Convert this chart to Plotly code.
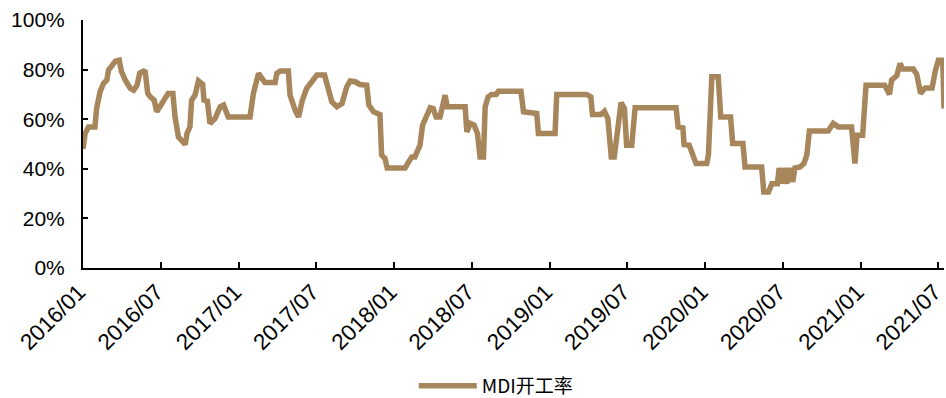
import plotly.graph_objects as go

# MDI operating rate, weekly turning points (date, % of capacity)
dates = [
    "2016-01-01", "2016-01-06", "2016-01-14", "2016-01-29", "2016-02-02", "2016-02-10",
    "2016-02-18", "2016-02-26", "2016-03-01", "2016-03-09", "2016-03-17", "2016-03-26",
    "2016-03-31", "2016-04-09", "2016-04-21", "2016-04-29", "2016-05-07", "2016-05-13",
    "2016-05-22", "2016-05-26", "2016-06-01", "2016-06-07", "2016-06-16", "2016-06-22",
    "2016-06-30", "2016-07-08", "2016-07-19", "2016-07-30", "2016-08-04", "2016-08-12",
    "2016-08-20", "2016-08-28", "2016-09-01", "2016-09-08", "2016-09-12", "2016-09-20",
    "2016-09-28", "2016-10-08", "2016-10-11", "2016-10-19", "2016-10-25", "2016-11-06",
    "2016-11-18", "2016-11-26", "2016-12-07", "2016-12-11", "2017-01-27", "2017-02-04",
    "2017-02-16", "2017-03-03", "2017-03-27", "2017-03-31", "2017-04-08", "2017-04-27",
    "2017-05-01", "2017-05-13", "2017-05-21", "2017-05-30", "2017-06-09", "2017-06-21",
    "2017-07-03", "2017-07-21", "2017-07-30", "2017-08-07", "2017-08-19", "2017-08-31",
    "2017-09-11", "2017-09-19", "2017-10-01", "2017-10-12", "2017-10-28", "2017-11-02",
    "2017-11-13", "2017-11-28", "2017-12-02", "2017-12-10", "2017-12-15", "2018-01-26",
    "2018-02-03", "2018-02-11", "2018-02-18", "2018-03-02", "2018-03-08", "2018-03-18",
    "2018-03-26", "2018-04-02", "2018-04-09", "2018-04-18", "2018-04-24", "2018-04-30",
    "2018-05-05", "2018-06-16", "2018-06-20", "2018-06-28", "2018-07-07", "2018-07-15",
    "2018-07-21", "2018-07-29", "2018-08-02", "2018-08-09", "2018-08-17", "2018-08-28",
    "2018-09-02", "2018-10-25", "2018-10-31", "2018-12-01", "2018-12-05", "2019-01-13",
    "2019-01-17", "2019-03-28", "2019-04-07", "2019-04-11", "2019-05-01", "2019-05-09",
    "2019-05-17", "2019-05-25", "2019-06-01", "2019-06-09", "2019-06-17", "2019-06-25",
    "2019-06-30", "2019-07-12", "2019-07-20", "2019-10-24", "2019-10-29", "2019-11-09",
    "2019-11-12", "2019-11-24", "2019-12-04", "2019-12-10", "2020-01-04", "2020-01-08",
    "2020-01-16", "2020-01-31", "2020-02-06", "2020-02-29", "2020-03-05", "2020-03-29",
    "2020-04-03", "2020-05-12", "2020-05-17", "2020-05-28", "2020-06-05", "2020-06-18",
    "2020-06-22", "2020-06-28", "2020-07-03", "2020-07-10", "2020-07-16", "2020-07-24",
    "2020-07-29", "2020-08-10", "2020-08-19", "2020-08-26", "2020-09-01", "2020-10-15",
    "2020-10-27", "2020-11-08", "2020-12-09", "2020-12-17", "2020-12-22", "2021-01-04",
    "2021-01-12", "2021-02-25", "2021-03-08", "2021-03-13", "2021-03-25", "2021-04-02",
    "2021-04-08", "2021-05-03", "2021-05-11", "2021-05-20", "2021-05-31", "2021-06-16",
    "2021-06-24", "2021-07-01", "2021-07-11", "2021-07-14",
]
rate = [
    48.0, 54.2, 56.9, 56.9, 64.3, 71.0,
    74.4, 75.8, 79.8, 82.1, 83.4, 83.8,
    79.4, 75.8, 72.4, 71.7, 73.7, 78.5,
    79.4, 79.1, 70.4, 69.0, 67.7, 63.0,
    65.0, 67.7, 70.4, 70.4, 60.9, 52.8,
    51.5, 49.8, 54.2, 56.9, 67.7, 69.7,
    75.4, 74.0, 67.7, 67.3, 58.3, 60.3,
    65.0, 65.7, 60.9, 60.9, 60.9, 70.4,
    78.5, 74.8, 74.8, 78.5, 79.4, 79.4,
    69.7, 63.6, 60.9, 67.7, 72.4, 75.1,
    77.8, 77.8, 72.4, 67.0, 65.0, 66.3,
    73.0, 75.4, 75.1, 74.0, 73.7, 65.7,
    63.0, 61.9, 45.5, 44.1, 40.3, 40.3,
    42.7, 44.8, 44.8, 49.5, 57.6, 62.3,
    64.6, 64.3, 60.9, 60.9, 65.0, 69.7,
    65.0, 65.0, 54.9, 58.3, 57.6, 54.2,
    44.8, 44.8, 65.0, 69.0, 70.0, 70.0,
    71.3, 71.3, 63.0, 62.3, 54.2, 54.2,
    70.0, 70.0, 69.0, 61.9, 61.9, 63.2,
    60.3, 44.8, 44.8, 56.2, 66.7, 64.3,
    49.5, 49.5, 64.6, 64.6, 56.9, 56.5,
    49.8, 49.5, 44.1, 42.1, 42.1, 45.5,
    77.1, 77.1, 60.9, 60.9, 50.2, 50.2,
    40.7, 40.7, 30.6, 30.6, 34.0, 34.0,
    40.3, 34.0, 40.3, 34.0, 40.3, 34.7,
    40.3, 40.7, 42.1, 45.5, 55.2, 55.2,
    58.3, 56.9, 56.9, 42.1, 53.5, 53.5,
    73.7, 73.7, 70.0, 75.8, 77.5, 82.5,
    80.2, 80.2, 78.1, 70.4, 72.6, 72.6,
    79.8, 83.8, 83.8, 64.3,
]

tick_dates = [
    "2016-01-01", "2016-07-01", "2017-01-01", "2017-07-01", "2018-01-01", "2018-07-01",
    "2019-01-01", "2019-07-01", "2020-01-01", "2020-07-01", "2021-01-01", "2021-07-01",
]
tick_labels = [
    "2016/01", "2016/07", "2017/01", "2017/07", "2018/01", "2018/07",
    "2019/01", "2019/07", "2020/01", "2020/07", "2021/01", "2021/07",
]
y_ticks = [0, 20, 40, 60, 80, 100]

line_color = "#A8865C"
font_main = "Liberation Sans, Arial, sans-serif"

fig = go.Figure()
fig.add_trace(go.Scatter(
    x=dates, y=rate, mode="lines", name="MDI开工率",
    line=dict(color=line_color, width=5.5),
))

fig.update_layout(
    width=946, height=398,
    margin=dict(l=83, r=2, t=20, b=130, autoexpand=False),
    paper_bgcolor="white", plot_bgcolor="white",
    font=dict(family=font_main, size=20, color="black"),
    showlegend=True,
    legend=dict(
        orientation="h", x=0.48, xanchor="center", y=-0.475, yanchor="middle",
        font=dict(family="Noto Sans CJK SC, Liberation Sans, sans-serif", size=19, color="black"),
        itemwidth=58, tracegroupgap=0,
    ),
)
fig.update_xaxes(
    type="date", range=[dates[0], dates[-1]], automargin=False,
    tickmode="array", tickvals=tick_dates, ticktext=tick_labels, tickangle=-45,
    ticklabeloverflow="allow", ticklabelshift=-4,
    showgrid=False, zeroline=False,
    showline=True, linecolor="black", linewidth=2,
    ticks="inside", ticklen=6, tickwidth=2, tickcolor="black",
    tickfont=dict(family=font_main, size=22.5, color="black"),
)
fig.update_yaxes(
    range=[0, 100], tickmode="array", tickvals=y_ticks, automargin=False,
    ticktext=[f"{v}%" for v in y_ticks],
    showgrid=False, zeroline=False,
    showline=True, linecolor="black", linewidth=2,
    ticks="inside", ticklen=5, tickwidth=2, tickcolor="black",
    tickfont=dict(family=font_main, size=21, color="black"),
    ticklabelstandoff=12,
)

fig.write_html("out.html")
